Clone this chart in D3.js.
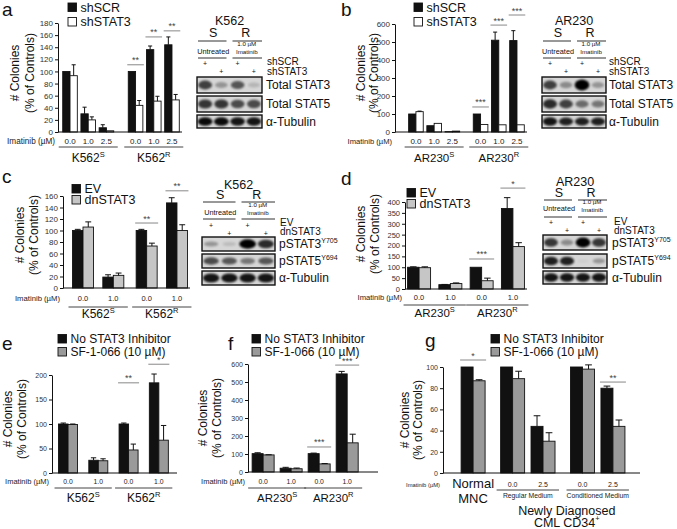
<!DOCTYPE html>
<html><head><meta charset="utf-8">
<script src="https://cdn.jsdelivr.net/npm/d3@7"></script>
<style>
body{margin:0;background:#fff}
svg{display:block}
text{font-family:"Liberation Sans",Arial,Helvetica,sans-serif;fill:#111}
</style>
</head><body>
<svg id="fig" width="677" height="529"></svg>
<script>
// ---------------- DATA ----------------
// panel a (K562, shRNA)
const dosesA = ["0.0","1.0","2.5","0.0","1.0","2.5"];
const groupsA = [0,0,0,1,1,1];
const cellA = [["K562","S"],["K562","R"]];
const shSCR_A = [100,30,7,100,136,144];
const shSCR_A_err = [0,11,5,0,6,13];
const shSTAT3_A = [93,20,2,44,51,53];
const shSTAT3_A_err = [18,5,0,8,8,9];
const sigA = [{i:3,label:"**",at:111},{i:4,label:"**",at:157},{i:5,label:"**",at:167}];
const ticksA = [0,20,40,60,80,100,120,140,160,180];
// panel b (AR230, shRNA)
const dosesB = ["0.0","1.0","2.5","0.0","1.0","2.5"];
const groupsB = [0,0,0,1,1,1];
const cellB = [["AR230","S"],["AR230","R"]];
const shSCR_B = [100,35,2,100,510,508];
const shSCR_B_err = [0,0,0,0,45,55];
const shSTAT3_B = [113,48,5,42,40,40];
const shSTAT3_B_err = [3,0,0,0,0,0];
const sigB = [{i:3,label:"***",at:139},{i:4,label:"***",at:594},{i:5,label:"***",at:650}];
const ticksB = [0,100,200,300,400,500,600];
// panel c (K562, dnSTAT3)
const dosesC = ["0.0","1.0","0.0","1.0"];
const groupsC = [0,0,1,1];
const cellC = [["K562","S"],["K562","R"]];
const EV_C = [100,19,100,148];
const EV_C_err = [2,4,2,9];
const dn_C = [106,22,73,100];
const dn_C_err = [9,4,5,10];
const sigC = [{i:2,label:"**",at:113},{i:3,label:"**",at:169}];
const ticksC = [0,20,40,60,80,100,120,140,160];
// panel d (AR230, dnSTAT3)
const dosesD = ["0.0","1.0","0.0","1.0"];
const groupsD = [0,0,1,1];
const cellD = [["AR230","S"],["AR230","R"]];
const EV_D = [100,20,100,370];
const EV_D_err = [2,1,0,50];
const dn_D = [98,25,38,195];
const dn_D_err = [4,3,12,18];
const sigD = [{i:2,label:"***",at:138},{i:3,label:"*",at:464}];
const ticksD = [0,50,100,150,200,250,300,350,400];
// panel e (K562, SF-1-066)
const dosesE = ["0.0","1.0","0.0","1.0"];
const groupsE = [0,0,1,1];
const cellE = [["K562","S"],["K562","R"]];
const noInh_E = [100,26,100,184];
const noInh_E_err = [2,5,2,18];
const sf_E = [99,25,47,67];
const sf_E_err = [1,4,12,30];
const sigE = [{i:2,label:"**",at:184},{i:3,label:"*",at:222}];
const ticksE = [0,50,100,150,200];
// panel f (AR230, SF-1-066)
const dosesF = ["0.0","1.0","0.0","1.0"];
const groupsF = [0,0,1,1];
const cellF = [["AR230","S"],["AR230","R"]];
const noInh_F = [102,21,102,545];
const noInh_F_err = [5,5,3,14];
const sf_F = [95,18,45,162];
const sf_F_err = [1,4,2,48];
const sigF = [{i:2,label:"***",at:139},{i:3,label:"***",at:594}];
const ticksF = [0,100,200,300,400,500,600];
// panel g (primary cells)
const dosesG = ["","0.0","2.5","0.0","2.5"];
const groupsG = [0,1,1,2,2];
const mediaG = ["Regular Medium","Conditioned Medium"];
const noInh_G = [100,100,44,100,80];
const noInh_G_err = [0,0,10,0,2];
const sf_G = [87,89,30,98,44];
const sf_G_err = [1,7,8,4,6];
const sigG = [{i:0,label:"*",at:106.6},{i:4,label:"**",at:85.8}];
const ticksG = [0,20,40,60,80,100];
// western blots: relative band intensity, lanes 1-4
const blotRowsTotal = [["Total STAT3",""],["Total STAT5",""],["\u03b1-Tubulin",""]];
const blotRowsPhospho = [["pSTAT3","Y705"],["pSTAT5","Y694"],["\u03b1-Tubulin",""]];
const bandsA = [[0.7,0.3,0.6,0.15],[0.75,0.75,0.65,0.65],[0.95,0.95,0.9,0.9]];
const bandsB = [[0.7,0.35,1.0,0.3],[0.8,0.7,0.5,0.45],[0.9,0.85,0.85,0.85]];
const bandsC = [[0.3,0.12,1.0,0.8],[0.65,0.6,0.45,0.6],[0.9,0.9,0.9,0.9]];
const bandsD = [[0.75,0.35,1.0,0.75],[0.85,0.85,0.04,0.3],[0.9,0.9,0.9,0.9]];

// ---------------- DRAWING ----------------
const svg = d3.select("#fig");
const defs = svg.append("defs");
defs.append("filter").attr("id","blur").attr("x","-50%").attr("y","-100%").attr("width","200%").attr("height","300%")
  .append("feGaussianBlur").attr("stdDeviation",0.9);

function txt(g, x, y, s, size, anchor, sup, supSize, color){
  const t = g.append("text").attr("x",x).attr("y",y).attr("font-size",size)
    .attr("text-anchor",anchor||"start").text(s);
  if(color) t.style("fill",color);
  if(sup){
    t.append("tspan").attr("dy",-size*0.42).attr("font-size",supSize||size*0.6).text(sup);
  }
  return t;
}
function hline(g, x1, x2, y, color, w){
  g.append("line").attr("x1",x1).attr("x2",x2).attr("y1",y).attr("y2",y)
   .attr("stroke",color||"#111").attr("stroke-width",w||1);
}

function barPanel(c){
  const g = svg.append("g");
  const pos = c.groups.map((gi,i)=> i + gi*c.gap);
  const x = d3.scaleLinear().domain(c.xDomain).range([c.x0,c.x1]);
  const y = d3.scaleLinear().domain([0,c.yMax]).range([c.yBase,c.yTop]);
  // y axis
  const ax = g.append("g").attr("transform",`translate(${c.x0},0)`)
    .call(d3.axisLeft(y).tickValues(c.ticks).tickSize(3).tickSizeOuter(0).tickPadding(2).tickFormat(d3.format("d")));
  ax.selectAll("path,line").attr("stroke","#111");
  ax.selectAll("text").attr("font-size",c.tickFont).style("fill","#333")
    .attr("font-family",'"Liberation Sans",Arial,sans-serif');
  // bars
  c.series.forEach((s,k)=>{
    g.selectAll(null).data(s.v).enter().append("rect")
      .attr("x",(d,i)=> x(pos[i]) + (k===0 ? -c.bw : 0))
      .attr("y",d=> y(d))
      .attr("width",c.bw)
      .attr("height",d=> c.yBase - y(d))
      .attr("fill",s.fill).attr("stroke","#111").attr("stroke-width",0.9);
    s.v.forEach((v,i)=>{
      const e = s.e[i];
      if(e>0){
        const cx = x(pos[i]) + (k===0 ? -c.bw/2 : c.bw/2);
        g.append("line").attr("x1",cx).attr("x2",cx).attr("y1",y(v)).attr("y2",y(v+e)).attr("stroke","#111");
        hline(g, cx-c.bw*0.28, cx+c.bw*0.28, y(v+e));
      }
    });
  });
  // x axis baseline
  hline(g, c.x0, c.x1, c.yBase);
  // significance
  c.sig.forEach(s=>{
    const cx = x(pos[s.i]);
    const yy = y(s.at);
    hline(g, cx-c.bw-1, cx+c.bw+1, yy, "#888", 1);
    txt(g, cx, yy-1.5, s.label, 9, "middle", null, null, "#444");
  });
  // dose labels
  txt(g, c.x0-3, c.yBase+c.doseDy, "Imatinib (\u00b5M)", c.imatFont, "end", null, null, "#222");
  c.doses.forEach((d,i)=>{ if(d) txt(g, x(pos[i]), c.yBase+c.doseDy, d, c.doseFont, "middle", null, null, "#222"); });
  // groups
  const gIdx = Array.from(new Set(c.groups));
  gIdx.forEach(gi=>{
    const ps = pos.filter((p,i)=> c.groups[i]===gi);
    const lo = x(d3.min(ps)) - c.bw - 4, hi = x(d3.max(ps)) + c.bw + 4;
    if(c.groupNames[gi]){
      const gn = c.groupNames[gi];
      if(gn.type==="cell"){
        hline(g, lo, hi, c.yBase+c.ulDy, "#444", 1);
        txt(g, (lo+hi)/2, c.yBase+c.grpDy, gn.name, c.grpFont, "middle", gn.sup, 7.5);
      } else if(gn.type==="medium"){
        hline(g, lo, hi, c.yBase+c.ulDy, "#444", 1);
        txt(g, (lo+hi)/2, c.yBase+c.grpDy, gn.name, 6.8, "middle", null, null, "#222");
      } else if(gn.type==="stack"){
        txt(g, x(ps[0]), c.yBase+15, gn.lines[0], 13, "middle");
        txt(g, x(ps[0]), c.yBase+30, gn.lines[1], 13, "middle");
      }
    }
  });
  // legend
  c.series.forEach((s,k)=>{
    const by = c.legend.ys[k];
    g.append("rect").attr("x",c.legend.x).attr("y",by-8.5).attr("width",8.5).attr("height",8.5)
      .attr("fill",s.fill).attr("stroke","#111").attr("stroke-width",0.9);
    txt(g, c.legend.x+12.5, by, s.name, c.legend.font);
  });
  // y title
  const yt = c.ytitle;
  ["# Colonies","(% of Controls)"].forEach((s,k)=>{
    g.append("text").attr("transform",`translate(${yt.xs[k]+4.2},${yt.yc}) rotate(-90)`)
      .attr("text-anchor","middle").attr("font-size",12).text(s);
  });
  // panel letter
  txt(g, c.letter.x, c.letter.y, c.letter.t, 19);
  return {g,x,y,pos};
}

function blot(c){
  const g = svg.append("g");
  const lanes = d3.scaleBand().domain([0,1,2,3]).range([c.x0,c.x1]);
  const lw = lanes.bandwidth();
  const lc = j => lanes(j)+lw/2;
  const sC = (lc(0)+lc(1))/2, rC = (lc(2)+lc(3))/2;
  const mid = (c.x0+c.x1)/2;
  txt(g, mid, c.titleY, c.title, 12.5, "middle");
  txt(g, sC, c.srY, "S", 12.5, "middle");
  txt(g, rC, c.srY, "R", 12.5, "middle");
  hline(g, c.x0+1, mid-3, c.ul1Y, "#333"); hline(g, mid+3, c.x1, c.ul1Y, "#333");
  txt(g, sC, c.untrY, "Untreated", 7.3, "middle");
  txt(g, rC+1, c.imY[0], "1.0  \u00b5M", 6.2, "middle");
  txt(g, rC+1, c.imY[1], "Imatinib", 6.2, "middle");
  hline(g, c.x0+1, mid-3, c.ul2Y, "#333"); hline(g, mid+3, c.x1, c.ul2Y, "#333");
  [0,1,2,3].forEach(j=> txt(g, lc(j), c.plusY[j%2], "+", 7, "middle"));
  c.samples.forEach((s,k)=> txt(g, c.sampleX, c.sampleY[k], s, 10));
  c.rows.forEach((r,ri)=>{
    const [y0,y1] = c.boxes[ri];
    g.append("rect").attr("x",c.x0).attr("y",y0).attr("width",c.x1-c.x0).attr("height",y1-y0)
      .attr("fill","#d6d6d6").attr("stroke","#111").attr("stroke-width",1.4);
    c.bands[ri].forEach((v,j)=>{
      if(v<0.03) return;
      g.append("ellipse").attr("cx",lc(j)).attr("cy",(y0+y1)/2)
        .attr("rx",lw*(0.36+0.1*v)).attr("ry",(y1-y0)*(0.12+0.22*v))
        .attr("fill","#000").attr("opacity",v).attr("filter","url(#blur)");
    });
    txt(g, c.labelX, (y0+y1)/2+4.3, r[0], 12, "start", r[1], 7);
  });
}

// ----- panels -----
barPanel({x0:58,x1:182,xDomain:[-0.66,6.15],gap:0.6,groups:groupsA,doses:dosesA,
  yBase:132,yTop:23,yMax:180,ticks:ticksA,tickFont:8,bw:7.3,
  series:[{name:"shSCR",v:shSCR_A,e:shSCR_A_err,fill:"#111"},{name:"shSTAT3",v:shSTAT3_A,e:shSTAT3_A_err,fill:"#fff"}],
  sig:sigA,doseFont:8,imatFont:8.2,doseDy:12,ulDy:15,grpDy:30,grpFont:12,
  groupNames:cellA.map(c=>({type:"cell",name:c[0],sup:c[1]})),
  legend:{x:68,ys:[11.5,26],font:12.5},ytitle:{xs:[15,30],yc:73},letter:{t:"a",x:2,y:16}});

barPanel({x0:395,x1:527,xDomain:[-1.15,6.1],gap:0.55,groups:groupsB,doses:dosesB,
  yBase:132,yTop:24,yMax:600,ticks:ticksB,tickFont:8,bw:7.3,
  series:[{name:"shSCR",v:shSCR_B,e:shSCR_B_err,fill:"#111"},{name:"shSTAT3",v:shSTAT3_B,e:shSTAT3_B_err,fill:"#fff"}],
  sig:sigB,doseFont:8,imatFont:7.6,doseDy:12,ulDy:15,grpDy:30,grpFont:11.5,
  groupNames:cellB.map(c=>({type:"cell",name:c[0],sup:c[1]})),
  legend:{x:414,ys:[11.5,26],font:12.5},ytitle:{xs:[361,374],yc:73},letter:{t:"b",x:341,y:16}});

barPanel({x0:63,x1:190,xDomain:[-0.66,3.53],gap:0.1,groups:groupsC,doses:dosesC,
  yBase:288,yTop:196,yMax:160,ticks:ticksC,tickFont:8,bw:10.5,
  series:[{name:"EV",v:EV_C,e:EV_C_err,fill:"#111"},{name:"dnSTAT3",v:dn_C,e:dn_C_err,fill:"#c6c6c6"}],
  sig:sigC,doseFont:7.5,imatFont:7.7,doseDy:13,ulDy:19,grpDy:30,grpFont:12,
  groupNames:cellC.map(c=>({type:"cell",name:c[0],sup:c[1]})),
  legend:{x:72,ys:[193,204],font:12.5},ytitle:{xs:[20,34],yc:235},letter:{t:"c",x:2,y:183}});

barPanel({x0:405,x1:527,xDomain:[-0.45,3.45],gap:0,groups:groupsD,doses:dosesD,
  yBase:289,yTop:202,yMax:400,ticks:ticksD,tickFont:7.5,bw:11.5,
  series:[{name:"EV",v:EV_D,e:EV_D_err,fill:"#111"},{name:"dnSTAT3",v:dn_D,e:dn_D_err,fill:"#c6c6c6"}],
  sig:sigD,doseFont:7.5,imatFont:7.6,doseDy:11,ulDy:16,grpDy:28,grpFont:11.5,
  groupNames:cellD.map(c=>({type:"cell",name:c[0],sup:c[1]})),
  legend:{x:407,ys:[197,208],font:12.5},ytitle:{xs:[360.5,375],yc:234},letter:{t:"d",x:341,y:185}});

barPanel({x0:52,x1:177,xDomain:[-0.53,3.6],gap:0,groups:groupsE,doses:dosesE,
  yBase:473,yTop:375,yMax:200,ticks:ticksE,tickFont:7,bw:9.5,
  series:[{name:"No STAT3 Inhibitor",v:noInh_E,e:noInh_E_err,fill:"#111"},{name:"SF-1-066 (10 \u00b5M)",v:sf_E,e:sf_E_err,fill:"#9a9a9a"}],
  sig:sigE,doseFont:6.8,imatFont:7.5,doseDy:11,ulDy:15,grpDy:29,grpFont:12,
  groupNames:cellE.map(c=>({type:"cell",name:c[0],sup:c[1]})),
  legend:{x:58,ys:[343,356],font:12},ytitle:{xs:[8,22],yc:419},letter:{t:"e",x:2,y:350}});

barPanel({x0:248,x1:378,xDomain:[-0.54,4.1],gap:0,groups:groupsF,doses:dosesF,
  yBase:472,yTop:364,yMax:600,ticks:ticksF,tickFont:7,bw:11,
  series:[{name:"No STAT3 Inhibitor",v:noInh_F,e:noInh_F_err,fill:"#111"},{name:"SF-1-066 (10 \u00b5M)",v:sf_F,e:sf_F_err,fill:"#9a9a9a"}],
  sig:sigF,doseFont:6.8,imatFont:7.5,doseDy:12,ulDy:16,grpDy:30,grpFont:11.5,
  groupNames:cellF.map(c=>({type:"cell",name:c[0],sup:c[1]})),
  legend:{x:252,ys:[343,356],font:12},ytitle:{xs:[203,217],yc:418},letter:{t:"f",x:228,y:350}});

const gG = barPanel({x0:443,x1:640,xDomain:[-0.99,5.49],gap:0.3,groups:groupsG,doses:dosesG,
  yBase:473,yTop:367,yMax:100,ticks:ticksG,tickFont:7,bw:12,
  series:[{name:"No STAT3 Inhibitor",v:noInh_G,e:noInh_G_err,fill:"#111"},{name:"SF-1-066 (10 \u00b5M)",v:sf_G,e:sf_G_err,fill:"#9a9a9a"}],
  sig:sigG,doseFont:7,imatFont:5.8,doseDy:14,ulDy:17,grpDy:25,grpFont:12,
  groupNames:[{type:"stack",lines:["Normal","MNC"]},{type:"medium",name:mediaG[0]},{type:"medium",name:mediaG[1]}],
  legend:{x:491,ys:[343,356],font:12},ytitle:{xs:[405,418],yc:420},letter:{t:"g",x:425,y:347}});
{
  const cx = (gG.x(gG.pos[1]) + gG.x(gG.pos[4]))/2 + 4;
  txt(gG.g, cx, 515, "Newly Diagnosed", 12.5, "middle");
  txt(gG.g, cx, 526.5, "CML CD34", 12.5, "middle", "+", 7.5);
}

// ----- blots -----
blot({x0:197,x1:262,title:"K562",titleY:25,srY:37,ul1Y:41,untrY:54,imY:[46,54],ul2Y:58,plusY:[66,74],
  samples:["shSCR","shSTAT3"],sampleX:267,sampleY:[65,75],boxes:[[77,93],[96,112],[115,128]],
  rows:blotRowsTotal,bands:bandsA,labelX:266});
blot({x0:542,x1:606,title:"AR230",titleY:25,srY:37,ul1Y:41,untrY:54,imY:[46,54],ul2Y:58,plusY:[66,74],
  samples:["shSCR","shSTAT3"],sampleX:609,sampleY:[65,75],boxes:[[77,93],[96,112],[115,128]],
  rows:blotRowsTotal,bands:bandsB,labelX:609});
blot({x0:202,x1:275,title:"K562",titleY:189,srY:199,ul1Y:202,untrY:215,imY:[207,215],ul2Y:219,plusY:[228,236],
  samples:["EV","dnSTAT3"],sampleX:280,sampleY:[226,235],boxes:[[237,251],[254,268],[271,285]],
  rows:blotRowsPhospho,bands:bandsC,labelX:279});
blot({x0:543,x1:607,title:"AR230",titleY:186,srY:197,ul1Y:200,untrY:211,imY:[204,211.5],ul2Y:217,plusY:[225,233],
  samples:["EV","dnSTAT3"],sampleX:614,sampleY:[225,234],boxes:[[235,250],[254,268],[271,284]],
  rows:blotRowsPhospho,bands:bandsD,labelX:612});
</script>
</body></html>
